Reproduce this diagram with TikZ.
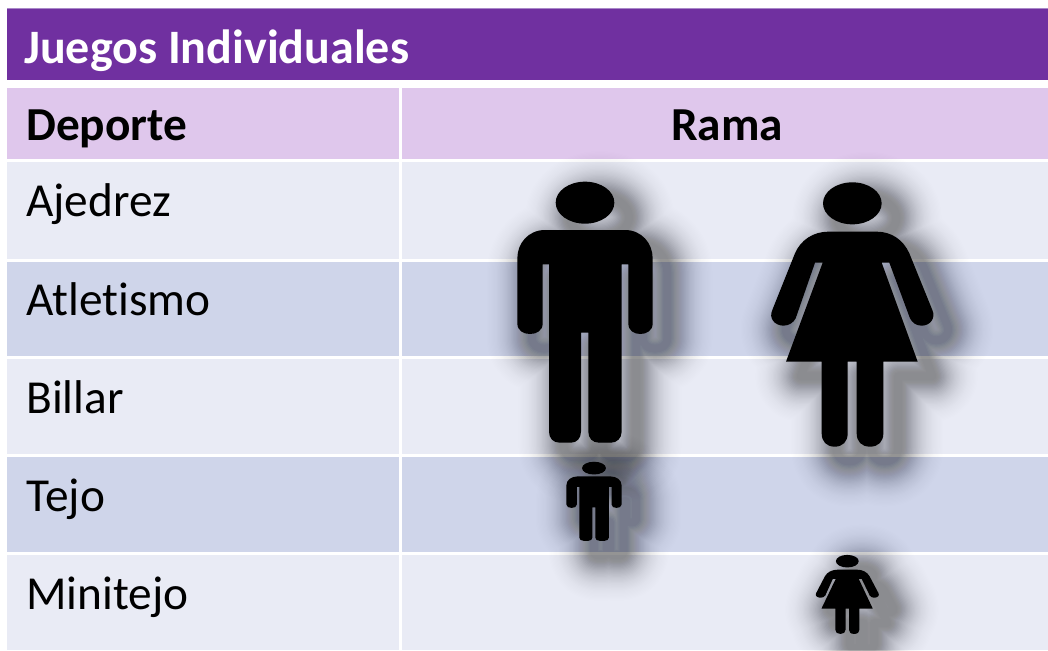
\documentclass[tikz,border=0pt]{standalone}
\usepackage{fontspec}
\setmainfont{Carlito}[Ligatures=NoCommon]
\definecolor{titlepurple}{HTML}{7030A0}
\definecolor{titleedge}{HTML}{A988C8}
\definecolor{headlilac}{HTML}{DFC7EC}
\definecolor{rowlight}{HTML}{E9EBF5}
\definecolor{rowdark}{HTML}{CFD5EA}
\newcommand{\manpath}{
  (255,98) ellipse [x radius=88, y radius=63]
  (135,180) -- (375,180) .. controls (425,180) and (458,220) .. (458,265)
  -- (458,460) .. controls (458,482) and (440,492) .. (421,492)
  .. controls (402,492) and (385,482) .. (385,460) -- (385,283) -- (365,283)
  -- (365,785) .. controls (365,805) and (350,818) .. (333,818) -- (297,818)
  .. controls (278,818) and (265,805) .. (265,785) -- (265,488) -- (243,488)
  -- (243,785) .. controls (243,805) and (230,818) .. (213,818) -- (179,818)
  .. controls (160,818) and (147,805) .. (147,785) -- (147,283) -- (128,283)
  -- (128,460) .. controls (128,482) and (110,492) .. (90,492)
  .. controls (70,492) and (52,482) .. (52,460) -- (52,265)
  .. controls (52,220) and (85,180) .. (135,180) -- cycle
}
\newcommand{\womanpath}{
  (307,100) ellipse [x radius=88, y radius=63]
  (235,185) -- (380,185) .. controls (425,185) and (460,210) .. (478,250)
  -- (547,420) .. controls (558,445) and (540,467) .. (515,467)
  .. controls (498,467) and (487,458) .. (480,445) -- (418,278) -- (395,278)
  -- (503,575) -- (400,575) -- (400,790) .. controls (400,815) and (385,830) .. (360,830)
  .. controls (335,830) and (320,815) .. (320,790) -- (320,575) -- (293,575)
  -- (293,790) .. controls (293,815) and (278,830) .. (254,830)
  .. controls (230,830) and (215,815) .. (215,790) -- (215,575) -- (108,575)
  -- (218,278) -- (195,278) -- (137,445) .. controls (130,458) and (117,467) .. (100,467)
  .. controls (75,467) and (55,445) .. (67,420) -- (135,250)
  .. controls (152,210) and (190,185) .. (235,185) -- cycle
}
% #1 path, #2 #3 origin in px, #4 #5 scale
\newcommand{\person}[5]{
  \begin{scope}[xshift=#2*0.75pt, yshift=-#3*0.75pt, x=#4*0.25pt, y=-#5*0.25pt]
    \foreach \w in {8,10.5,...,100}{
      \pgfmathsetmacro{\op}{0.001+0.024*(1-(\w-8)/92)^1.3}
      \draw[line width=\w*0.75pt, draw opacity=\op, draw=black, line join=round, xshift=11pt, yshift=-11pt] #1;
    }
    \fill[black] #1;
  \end{scope}
}
\tikzset{
  textcell/.style={anchor=base west, inner sep=0pt, font=\fontsize{35.5}{40}\selectfont, text=black},
  headcell/.style={inner sep=0pt, font=\fontsize{35.5}{40}\selectfont\bfseries, text=black},
  titlecell/.style={anchor=base west, inner sep=0pt, font=\fontsize{36}{40}\selectfont\bfseries, text=white}
}
\begin{document}
\begin{tikzpicture}[x=0.75pt,y=-0.75pt]
\useasboundingbox (0,0) rectangle (1048,650);
\fill[white] (0,0) rectangle (1048,650);
\fill[titlepurple] (7,8) rectangle (1048,80);
\fill[titleedge] (7,8) rectangle (1048,9);
\fill[headlilac] (7,88) rectangle (399,159);
\fill[headlilac] (402,88) rectangle (1048,159);
\foreach \ya/\yb/\c in {162/259/rowlight,262/356/rowdark,359/454/rowlight,457/552/rowdark,555/650/rowlight}{
  \fill[\c] (7,\ya) rectangle (399,\yb);
  \fill[\c] (402,\ya) rectangle (1048,\yb);
}
\node[titlecell] (title) at (24,63.5) {Juegos Individuales};
\node[headcell, anchor=base west] (deporte) at (26,140) {Deporte};
\node[headcell, anchor=base] (rama) at (727,140) {Rama};
\node[textcell] (ajedrez) at (26,216) {Ajedrez};
\node[textcell] (atletismo) at (26,315) {Atletismo};
\node[textcell] (billar) at (26,413) {Billar};
\node[textcell] (tejo) at (26,511.5) {Tejo};
\node[textcell] (minitejo) at (26,609.5) {Minitejo};
\person{\manpath}{500}{170}{1}{1}
\person{\womanpath}{750}{170}{1}{1}
\person{\manpath}{559.4}{458.2}{0.407}{0.303}
\person{\womanpath}{807.5}{551.2}{0.389}{0.299}
\end{tikzpicture}
\end{document}
